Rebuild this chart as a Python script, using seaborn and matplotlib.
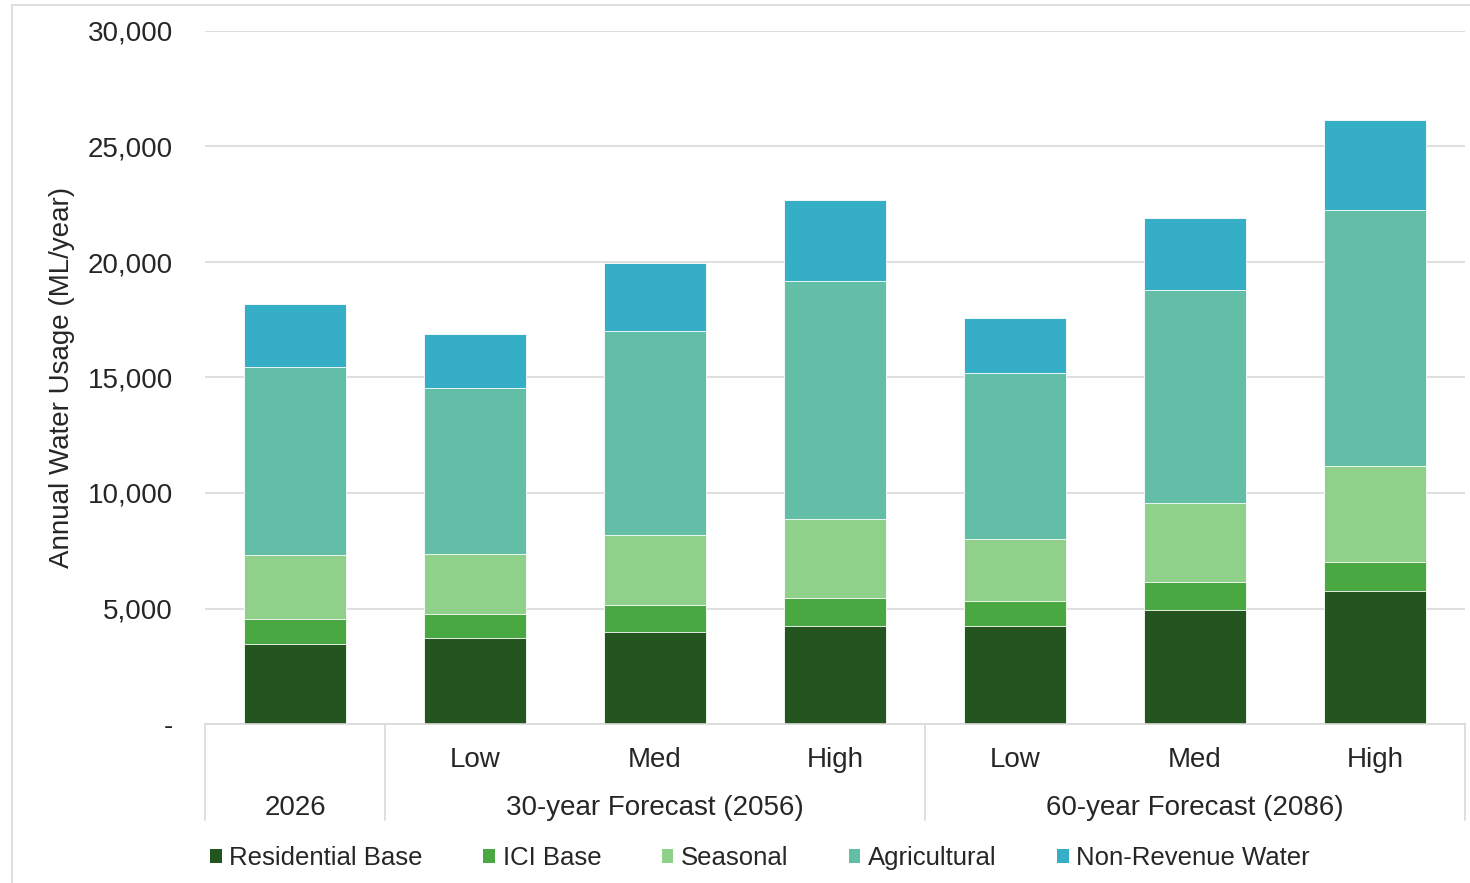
import pandas as pd
import numpy as np
import matplotlib.pyplot as plt
import seaborn as sns
from matplotlib.patches import Patch
from matplotlib.lines import Line2D

# Data (ML/year)
scenarios = ['2026', 'Low 2056', 'Med 2056', 'High 2056', 'Low 2086', 'Med 2086', 'High 2086']
level_labels = ['', 'Low', 'Med', 'High', 'Low', 'Med', 'High']
group_labels = ['2026', '30-year Forecast (2056)', '60-year Forecast (2086)']
group_spans = [(0, 0), (1, 3), (4, 6)]

residential = [3460, 3720, 3980, 4240, 4240, 4940, 5760]
ici = [1090, 1040, 1170, 1210, 1080, 1210, 1250]
seasonal = [2770, 2600, 3030, 3420, 2680, 3420, 4160]
agricultural = [8140, 7190, 8840, 10300, 7190, 9220, 11080]
non_revenue = [2730, 2340, 2940, 3510, 2380, 3120, 3900]

series_names = ['Residential Base', 'ICI Base', 'Seasonal', 'Agricultural', 'Non-Revenue Water']
colors = ['#245420', '#4aa843', '#8fd18a', '#62bea6', '#37aec7']

df = pd.DataFrame({'scenario': scenarios,
                   'Residential Base': residential,
                   'ICI Base': ici,
                   'Seasonal': seasonal,
                   'Agricultural': agricultural,
                   'Non-Revenue Water': non_revenue})
cum = df[series_names].cumsum(axis=1)

sns.set_style("white")
plt.rcParams['font.family'] = ['Liberation Sans', 'DejaVu Sans']
plt.rcParams['font.size'] = 20

fig = plt.figure(figsize=(14.7, 8.83), dpi=100)
ax = fig.add_axes([205 / 1470, 1 - 724 / 883, 1260 / 1470, 693 / 883])

# Stacked bars: draw cumulative totals from the top series down
for name, col in reversed(list(zip(series_names, colors))):
    sns.barplot(x=df['scenario'], y=cum[name], color=col, width=0.57, saturation=1,
                edgecolor='white', linewidth=0.6, ax=ax, order=scenarios)

ax.set_ylim(0, 30000)
ax.set_xlim(-0.5, 6.5)
ax.set_yticks(range(0, 30001, 5000))
ax.set_yticklabels(['-'] + [f'{v:,}' for v in range(5000, 30001, 5000)], fontsize=20)
ax.tick_params(axis='y', length=0, pad=23)
ax.tick_params(axis='x', length=0, labelbottom=False)
ax.set_xlabel('')
ax.set_ylabel('Annual Water Usage (ML/year)', fontsize=20, labelpad=9)
ax.yaxis.grid(True, color='#d9d9d9', linewidth=1.2)
ax.set_axisbelow(True)
for s in ['top', 'right', 'left']:
    ax.spines[s].set_visible(False)
ax.spines['bottom'].set_color('#d9d9d9')
ax.spines['bottom'].set_linewidth(1.2)

# Multi-level category labels
trans = ax.get_xaxis_transform()
for i, lab in enumerate(level_labels):
    if lab:
        ax.text(i, -0.052, lab, transform=trans, ha='center', va='center', fontsize=20)
for lab, (a, b) in zip(group_labels, group_spans):
    ax.text((a + b) / 2, -0.121, lab, transform=trans, ha='center', va='center', fontsize=20)
for xb in [-0.5, 0.5, 3.5, 6.5]:
    ax.add_line(Line2D([xb, xb], [0, -0.139], transform=trans, color='#d9d9d9',
                       linewidth=1.2, clip_on=False))

# Legend
handles = [Patch(facecolor=c, edgecolor='none', label=n) for n, c in zip(series_names, colors)]
fig.legend(handles=handles, loc='center left', bbox_to_anchor=(187 / 1470, 1 - 858 / 883),
           ncol=5, frameon=False, fontsize=18.5, handlelength=0.45, handleheight=0.45,
           handletextpad=0.3, columnspacing=2.35)

# Chart frame
fig.add_artist(Line2D([12 / 1470, 12 / 1470], [0, 1 - 5 / 883], color='#d9d9d9', linewidth=1.2))
fig.add_artist(Line2D([12 / 1470, 1], [1 - 5 / 883, 1 - 5 / 883], color='#d9d9d9', linewidth=1.2))

fig.savefig('out.png', dpi=100)
